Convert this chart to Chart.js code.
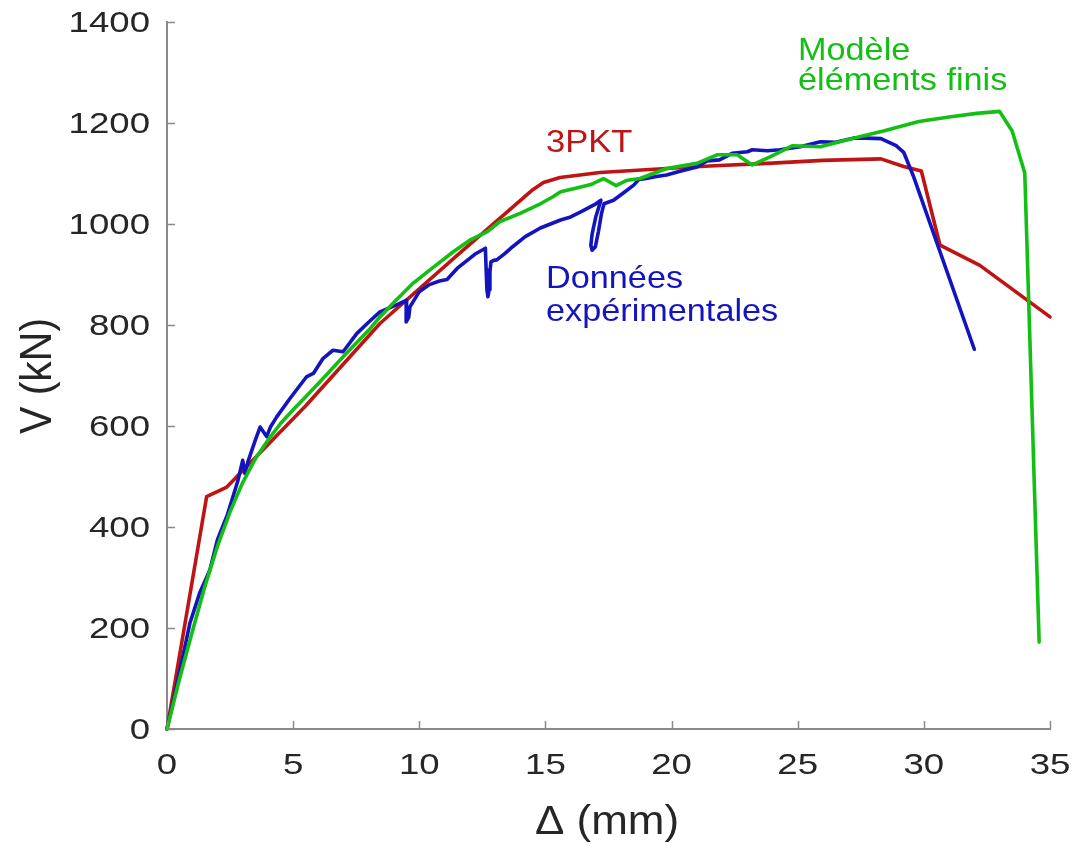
<!DOCTYPE html>
<html>
<head>
<meta charset="utf-8">
<script src="https://cdn.jsdelivr.net/npm/chart.js@4.4.1/dist/chart.umd.min.js"></script>
<style>
  html, body { margin: 0; padding: 0; background: #ffffff; }
  canvas { display: block; }
</style>
</head>
<body>
<canvas id="chart" width="1076" height="846"></canvas>
<script>
const deltaTicks = [0, 5, 10, 15, 20, 25, 30, 35];
const forceTicks = [0, 200, 400, 600, 800, 1000, 1200, 1400];

// 3PKT prediction (mm, kN)
const pktDelta = [0, 1.57, 2.37, 5.5, 8.44, 11.5, 14.5, 14.92, 15.58, 17.16, 19.8, 21.5, 23.8, 26.0, 28.3, 29.2, 29.9, 30.64, 32.22, 35];
const pktForce = [0, 460, 479, 640, 803, 938, 1068, 1082, 1092, 1102, 1110, 1115, 1120, 1126, 1129, 1114, 1105, 958, 918, 816];

// Finite element model
const modelDelta = [0, 0.5, 1.0, 1.5, 2.0, 2.5, 3.0, 3.5, 4.0, 4.5, 5.0, 5.5, 6.0, 7.0, 8.0, 8.44, 9.0, 9.76, 10.5, 11.35, 12.0, 12.7, 13.2, 14.0, 14.8, 15.3, 15.6, 16.2, 16.8, 17.3, 17.8, 18.2, 18.75, 19.8, 21.0, 21.8, 22.6, 23.2, 23.9, 24.8, 25.9, 27.2, 28.4, 29.8, 31.0, 32.1, 33.0, 33.5, 34.0, 34.57];
const modelForce = [0, 100, 192, 282, 362, 430, 488, 535, 572, 605, 632, 658, 684, 738, 790, 816, 845, 883, 912, 945, 968, 985, 1005, 1021, 1040, 1054, 1064, 1071, 1078, 1090, 1076, 1086, 1090, 1110, 1120, 1137, 1137, 1117, 1133, 1155, 1153, 1170, 1184, 1203, 1212, 1219, 1223, 1184, 1101, 172];

// Test measurements (unloading loops included, so delta is not monotonic)
const testDelta = [0, 0.4, 0.91, 1.3, 1.7, 2.0, 2.4, 2.8, 3.0, 3.09, 3.2, 3.5, 3.69, 3.95, 4.1, 4.35, 4.88, 5.54, 5.8, 6.19, 6.58, 6.98, 7.52, 8.0, 8.44, 9.1, 9.5, 9.48, 9.58, 9.63, 10.0, 10.4, 10.8, 11.1, 11.5, 12.2, 12.62, 12.65, 12.68, 12.72, 12.77, 12.8, 12.84, 12.95, 13.07, 13.4, 13.7, 14.2, 14.8, 15.2, 15.6, 16.0, 16.4, 17.0, 17.2, 17.0, 16.85, 16.8, 16.85, 16.98, 17.1, 17.22, 17.32, 17.7, 18.1, 18.5, 18.7, 19.0, 19.4, 19.8, 20.3, 21.0, 21.4, 21.9, 22.4, 23.0, 23.2, 23.8, 24.3, 25.1, 25.9, 26.5, 27.2, 27.7, 28.3, 28.9, 29.2, 29.6, 32.0];
const testForce = [0, 90, 210, 270, 315, 375, 425, 490, 532, 506, 528, 572, 598, 579, 598, 618, 655, 698, 704, 734, 750, 747, 783, 806, 826, 840, 849, 806, 815, 836, 866, 880, 887, 890, 912, 940, 952, 910, 870, 856, 870, 905, 925, 928, 929, 942, 955, 975, 992, 1000, 1008, 1014, 1024, 1040, 1047, 1015, 980, 958, 948, 955, 985, 1020, 1040, 1047, 1062, 1077, 1088, 1090, 1094, 1097, 1104, 1113, 1125, 1127, 1140, 1143, 1147, 1145, 1147, 1153, 1163, 1162, 1170, 1170, 1169, 1155, 1142, 1093, 752];

const RED = '#bf1414';
const BLUE = '#1414bf';
const GREEN = '#14bf14';
const AXIS = '#8a8a8a';
const INK = '#262626';
const FONT = "'Liberation Sans', Arial, Helvetica, sans-serif";

function toPoints(xs, ys) {
  return xs.map((x, i) => ({x: x, y: ys[i]}));
}

function curve(xs, ys, color) {
  return {
    data: toPoints(xs, ys),
    borderColor: color,
    borderWidth: 3.6,
    borderJoinStyle: 'round',
    borderCapStyle: 'round',
    pointRadius: 0,
    showLine: true,
    tension: 0,
    clip: false
  };
}

// Text helper: stretched horizontally like the exported figure fonts
function drawText(ctx, text, x, y, size, color, align, sx, rotated) {
  ctx.save();
  ctx.translate(x, y);
  if (rotated) {
    ctx.rotate(-Math.PI / 2);
    ctx.scale(1, sx);
  } else {
    ctx.scale(sx, 1);
  }
  ctx.font = size + 'px ' + FONT;
  ctx.fillStyle = color;
  ctx.textAlign = align;
  ctx.textBaseline = 'alphabetic';
  ctx.fillText(text, 0, 0);
  ctx.restore();
}

// Inward ticks, tick labels, axis titles and curve names
const axisDecor = {
  id: 'axisDecor',
  afterDraw: (chart) => {
    const {ctx, chartArea: {left, bottom}, scales: {x, y}} = chart;

    ctx.save();
    ctx.strokeStyle = AXIS;
    ctx.lineWidth = 1.5;
    ctx.beginPath();
    deltaTicks.forEach((v) => {
      const px = Math.round(x.getPixelForValue(v)) + 0.5;
      ctx.moveTo(px, bottom);
      ctx.lineTo(px, bottom - 8);
    });
    forceTicks.forEach((v) => {
      const py = Math.round(y.getPixelForValue(v)) + 0.5;
      ctx.moveTo(left, py);
      ctx.lineTo(left + 8, py);
    });
    ctx.stroke();
    ctx.restore();

    forceTicks.forEach((v) => {
      drawText(ctx, String(v), 150, y.getPixelForValue(v) + 9.5, 30, INK, 'right', 1.22, false);
    });
    deltaTicks.forEach((v) => {
      drawText(ctx, String(v), x.getPixelForValue(v), 774, 30, INK, 'center', 1.22, false);
    });

    drawText(ctx, 'Δ (mm)', 607, 834, 40, INK, 'center', 1.1, false);
    drawText(ctx, 'V (kN)', 51, 376, 41, INK, 'center', 1.1, true);

    drawText(ctx, '3PKT', 546, 152, 32, RED, 'left', 1.08, false);
    drawText(ctx, 'Données', 546, 288, 32, BLUE, 'left', 1.07, false);
    drawText(ctx, 'expérimentales', 546, 321, 32, BLUE, 'left', 1.07, false);
    drawText(ctx, 'Modèle', 798, 60, 32, GREEN, 'left', 1.07, false);
    drawText(ctx, 'éléments finis', 798, 90, 32, GREEN, 'left', 1.07, false);
  }
};

const config = {
  type: 'scatter',
  data: {
    datasets: [
      curve(modelDelta, modelForce, GREEN),
      curve(testDelta, testForce, BLUE),
      curve(pktDelta, pktForce, RED)
    ]
  },
  options: {
    responsive: false,
    animation: false,
    devicePixelRatio: 1,
    layout: {
      padding: {top: 22, right: 26, bottom: 0, left: 0}
    },
    plugins: {
      legend: {display: false},
      title: {display: false},
      tooltip: {enabled: false}
    },
    scales: {
      x: {
        type: 'linear',
        min: 0,
        max: 35,
        ticks: {display: false, stepSize: 5},
        grid: {display: false},
        border: {color: AXIS, width: 2},
        afterFit: (scale) => { scale.height = 117; }
      },
      y: {
        type: 'linear',
        min: 0,
        max: 1400,
        ticks: {display: false, stepSize: 200},
        grid: {display: false},
        border: {color: AXIS, width: 2},
        afterFit: (scale) => { scale.width = 167; }
      }
    }
  },
  plugins: [axisDecor]
};

new Chart(document.getElementById('chart'), config);
</script>
</body>
</html>
